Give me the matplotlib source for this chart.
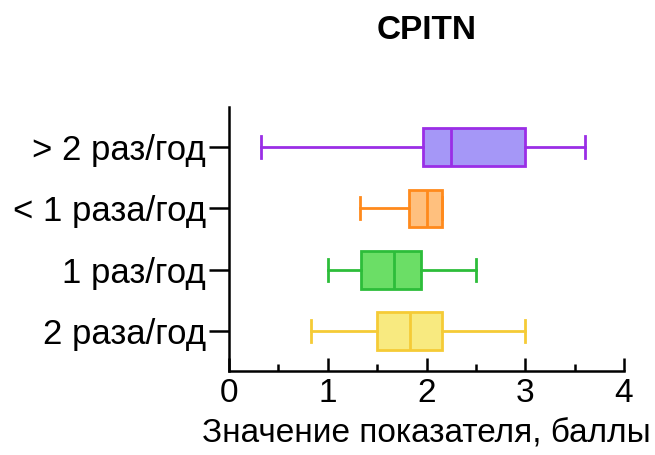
import matplotlib
matplotlib.use('Agg')
import matplotlib.pyplot as plt
from matplotlib.ticker import MultipleLocator

plt.rcParams['font.family'] = ['Liberation Sans', 'DejaVu Sans']

# groups from bottom to top
groups = ['2 раза/год', '1 раз/год', '< 1 раза/год', '> 2 раз/год']
whislo = [0.83, 1.00, 1.33, 0.32]
q1 = [1.50, 1.34, 1.82, 1.96]
med = [1.83, 1.67, 2.00, 2.25]
q3 = [2.16, 1.94, 2.16, 3.00]
whishi = [3.00, 2.50, 2.16, 3.60]

edge_colors = ['#f5cb36', '#2dbd3a', '#ff8a1c', '#9a2ee6']
fill_colors = ['#f8ea80', '#6bde66', '#ffc07e', '#a597f7']

stats = []
for i in range(len(groups)):
    stats.append({'whislo': whislo[i], 'q1': q1[i], 'med': med[i],
                  'q3': q3[i], 'whishi': whishi[i], 'label': groups[i]})

fig = plt.figure(figsize=(6.55, 4.55), dpi=100)
ax = fig.add_axes([0.3496, 0.1846, 0.6031, 0.5802])

lw = 2.0
for i, st in enumerate(stats):
    ec = edge_colors[i]
    ax.bxp([st], positions=[i], vert=False, widths=0.62, patch_artist=True,
           showfliers=False,
           boxprops=dict(facecolor=fill_colors[i], edgecolor=ec, lw=lw),
           medianprops=dict(color=ec, lw=lw),
           whiskerprops=dict(color=ec, lw=lw),
           capprops=dict(color=ec, lw=lw),
           capwidths=0.36)

ax.set_xlim(0, 4)
ax.set_ylim(-0.66, 3.66)
ax.set_yticks(range(len(groups)))
ax.set_yticklabels(groups)
ax.xaxis.set_major_locator(MultipleLocator(1))
ax.xaxis.set_minor_locator(MultipleLocator(0.5))

for s in ['top', 'right']:
    ax.spines[s].set_visible(False)
for s in ['left', 'bottom']:
    ax.spines[s].set_linewidth(1.8)

ax.tick_params(axis='x', which='major', direction='in', length=9.5, width=1.8,
               labelsize=24, pad=5)
ax.tick_params(axis='x', which='minor', direction='in', length=5, width=1.8)
ax.tick_params(axis='y', direction='out', length=14.5, width=1.8,
               labelsize=25, pad=2)

ax.set_xlabel('Значение показателя, баллы', fontsize=24, labelpad=7)
fig.text(0.6510, 0.966, 'CPITN', fontsize=24, fontweight='bold',
         ha='center', va='top')

fig.savefig('out.png', dpi=100)
